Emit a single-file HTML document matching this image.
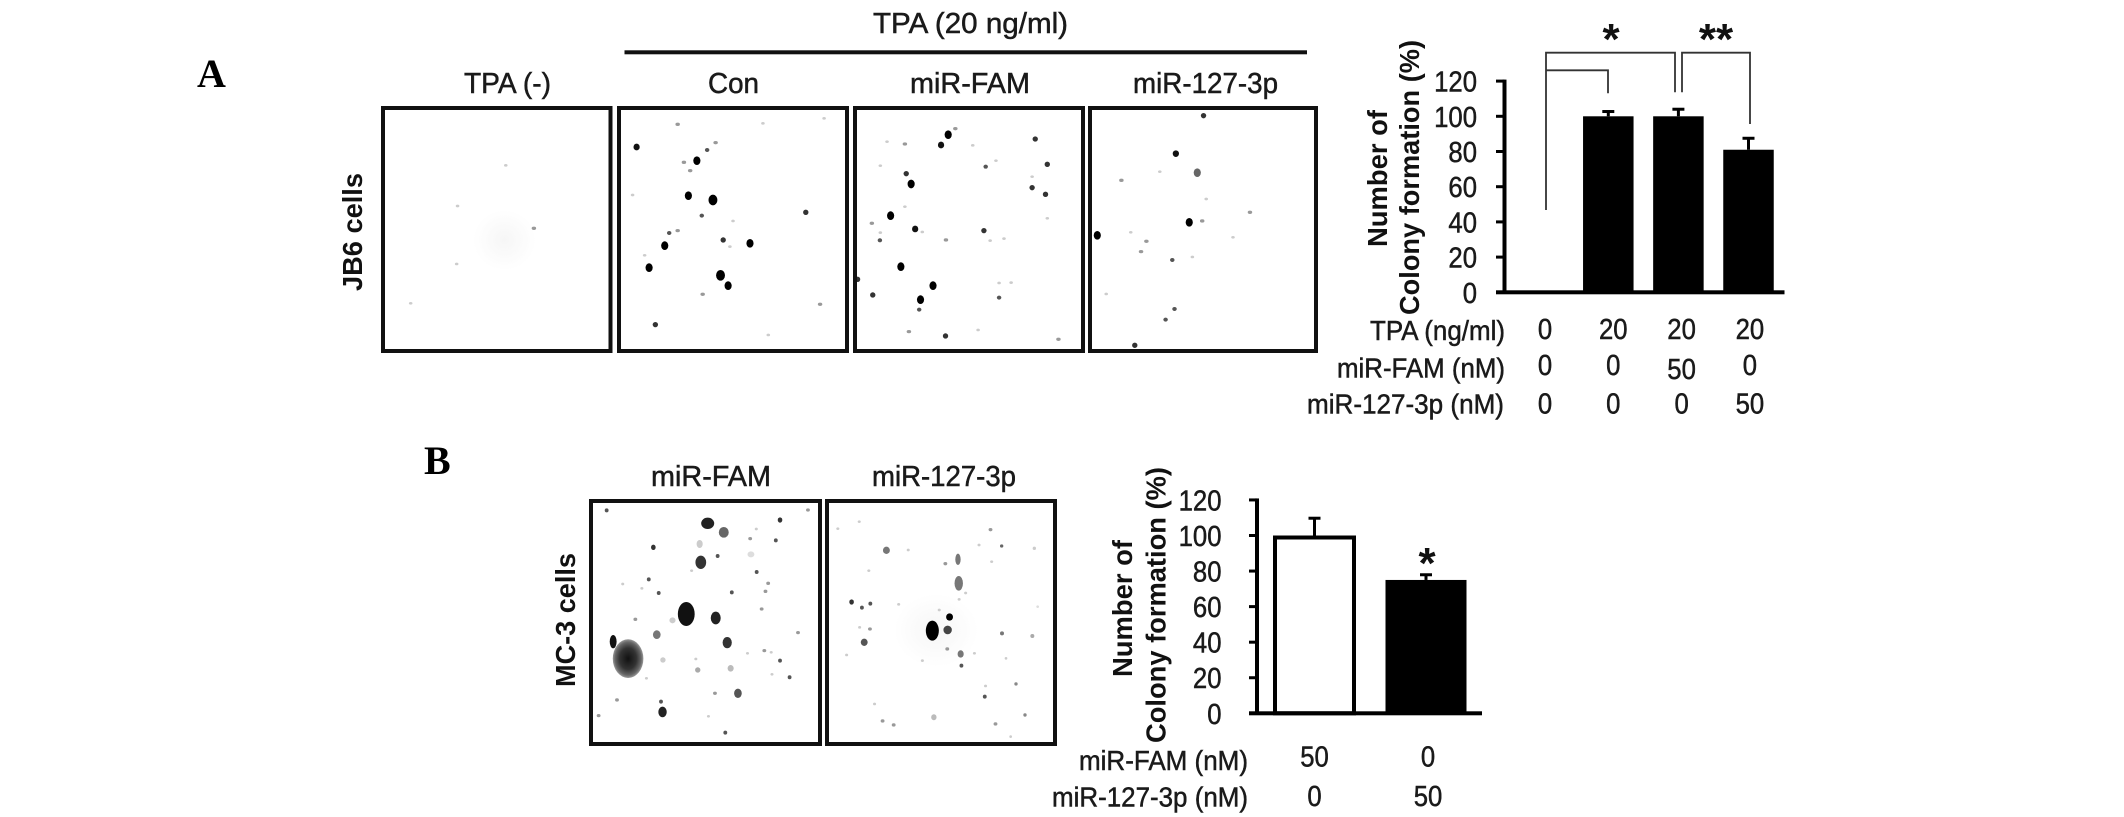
<!DOCTYPE html>
<html lang="en">
<head>
<meta charset="utf-8">
<title>Colony formation figure</title>
<style>
html,body{margin:0;padding:0;background:#fff;}
#fig{display:block;width:2124px;height:817px;font-family:"Liberation Sans",sans-serif;}
text{fill:#1a1a1a;}
.lbl{font-size:29px;stroke:#1a1a1a;stroke-width:.5px;}
.bold{font-size:28px;font-weight:bold;fill:#111;}
.letter{font-family:"Liberation Serif",serif;font-weight:bold;font-size:40px;fill:#000;}
.plate{fill:none;stroke:#111;stroke-width:4;}
.brk{fill:none;stroke:#333;stroke-width:1.8;}
.dots{filter:blur(.6px);}
.f{rx:4px;ry:4px;fill:#ccc;}
.g{rx:5px;ry:5px;fill:#999;}
.s{rx:5px;ry:6px;fill:#555;}
.m{rx:6px;ry:8px;fill:#333;}
.h{rx:7px;ry:10px;fill:#111;}
.L{rx:8px;ry:13px;fill:#000;}
.X{rx:10px;ry:16px;fill:#000;}
</style>
</head>
<body>
<svg id="fig" xmlns="http://www.w3.org/2000/svg" width="2124" height="817" viewBox="0 0 2124 817">
<defs>
<radialGradient id="colonyGrad"><stop offset="0" stop-color="#111"/><stop offset=".55" stop-color="#333"/><stop offset=".85" stop-color="#666"/><stop offset="1" stop-color="#999"/></radialGradient>
<radialGradient id="haloGrad"><stop offset="0" stop-color="#f6f6f6"/><stop offset="1" stop-color="#fff"/></radialGradient>
</defs>
<rect width="2124" height="817" fill="#fff"/>

<text class="letter" x="197" y="87">A</text>
<text class="letter" x="424" y="474">B</text>

<text class="lbl" x="873" y="33" textLength="195" lengthAdjust="spacingAndGlyphs">TPA (20 ng/ml)</text>
<rect x="624.5" y="50.3" width="682.5" height="4" fill="#111"/>
<text class="lbl" x="464" y="93" textLength="87" lengthAdjust="spacingAndGlyphs">TPA (-)</text>
<text class="lbl" x="708" y="93" textLength="51" lengthAdjust="spacingAndGlyphs">Con</text>
<text class="lbl" x="910" y="93" textLength="120" lengthAdjust="spacingAndGlyphs">miR-FAM</text>
<text class="lbl" x="1133" y="93" textLength="145" lengthAdjust="spacingAndGlyphs">miR-127-3p</text>
<text class="bold" transform="translate(362,291) rotate(-90)" textLength="118" lengthAdjust="spacingAndGlyphs">JB6 cells</text>

<text class="lbl" x="651" y="486" textLength="120" lengthAdjust="spacingAndGlyphs">miR-FAM</text>
<text class="lbl" x="872" y="486" textLength="144" lengthAdjust="spacingAndGlyphs">miR-127-3p</text>
<text class="bold" transform="translate(575,687) rotate(-90)" textLength="134" lengthAdjust="spacingAndGlyphs">MC-3 cells</text>

<!-- Panel A plates -->
<g class="dots" transform="scale(.4464,.3333)">
<ellipse cx="1130" cy="720" rx="70" ry="90" fill="url(#haloGrad)"/>
<ellipse class="g" cx="1196" cy="685"/><ellipse class="f" cx="1025" cy="618"/><ellipse class="f" cx="1023" cy="792"/><ellipse class="f" cx="1133" cy="496"/><ellipse class="f" cx="920" cy="910"/>
</g>
<g class="dots" transform="translate(600,0) scale(.4464,.3333)">
<ellipse class="h" cx="82" cy="441"/><ellipse class="g" cx="174" cy="373"/><ellipse class="f" cx="365" cy="370"/><ellipse class="f" cx="502" cy="355"/><ellipse class="g" cx="259" cy="428"/><ellipse class="s" cx="240" cy="450"/><ellipse class="L" cx="217" cy="482"/><ellipse class="g" cx="188" cy="487"/><ellipse class="g" cx="202" cy="512"/><ellipse class="f" cx="73" cy="585"/><ellipse class="L" cx="198" cy="587"/><ellipse class="X" cx="253" cy="600"/><ellipse class="s" cx="228" cy="647"/><ellipse class="m" cx="461" cy="637"/><ellipse class="f" cx="298" cy="663"/><ellipse class="s" cx="155" cy="699"/><ellipse class="g" cx="174" cy="692"/><ellipse class="L" cx="145" cy="737"/><ellipse class="m" cx="276" cy="720"/><ellipse class="f" cx="291" cy="740"/><ellipse class="L" cx="336" cy="730"/><ellipse class="f" cx="100" cy="766"/><ellipse class="L" cx="110" cy="803"/><ellipse class="X" cx="270" cy="826"/><ellipse class="L" cx="287" cy="857"/><ellipse class="g" cx="230" cy="883"/><ellipse class="g" cx="493" cy="913"/><ellipse class="m" cx="124" cy="974"/><ellipse class="f" cx="377" cy="1005"/>
</g>
<g class="dots" transform="translate(600,0) scale(.4464,.3333)">
<ellipse class="g" cx="796" cy="386"/><ellipse class="L" cx="780" cy="404"/><ellipse class="h" cx="764" cy="435"/><ellipse class="m" cx="975" cy="417"/><ellipse class="g" cx="683" cy="432"/><ellipse class="f" cx="643" cy="425"/><ellipse class="f" cx="835" cy="436"/><ellipse class="f" cx="887" cy="482"/><ellipse class="s" cx="864" cy="500"/><ellipse class="m" cx="1002" cy="493"/><ellipse class="m" cx="686" cy="521"/><ellipse class="L" cx="697" cy="552"/><ellipse class="m" cx="968" cy="563"/><ellipse class="m" cx="998" cy="583"/><ellipse class="f" cx="968" cy="530"/><ellipse class="f" cx="683" cy="620"/><ellipse class="L" cx="651" cy="647"/><ellipse class="g" cx="609" cy="670"/><ellipse class="f" cx="628" cy="698"/><ellipse class="h" cx="706" cy="687"/><ellipse class="f" cx="722" cy="696"/><ellipse class="m" cx="860" cy="692"/><ellipse class="s" cx="627" cy="721"/><ellipse class="g" cx="775" cy="720"/><ellipse class="f" cx="874" cy="722"/><ellipse class="f" cx="905" cy="716"/><ellipse class="f" cx="1002" cy="655"/><ellipse class="L" cx="674" cy="800"/><ellipse class="m" cx="577" cy="838"/><ellipse class="L" cx="746" cy="857"/><ellipse class="f" cx="894" cy="849"/><ellipse class="f" cx="921" cy="848"/><ellipse class="m" cx="611" cy="885"/><ellipse class="s" cx="894" cy="893"/><ellipse class="L" cx="718" cy="899"/><ellipse class="s" cx="715" cy="929"/><ellipse class="g" cx="692" cy="995"/><ellipse class="m" cx="774" cy="1008"/><ellipse class="f" cx="847" cy="990"/><ellipse class="g" cx="1027" cy="1018"/><ellipse class="f" cx="628" cy="497"/>
</g>
<g class="dots" transform="translate(600,0) scale(.4464,.3333)">
<ellipse class="m" cx="1352" cy="347"/><ellipse class="h" cx="1290" cy="461"/><ellipse class="g" cx="1168" cy="541"/><ellipse class="f" cx="1254" cy="515"/><ellipse cx="1338" cy="518" rx="8" ry="13" fill="#666"/><ellipse class="f" cx="1358" cy="597"/><ellipse class="g" cx="1456" cy="637"/><ellipse class="L" cx="1320" cy="667"/><ellipse class="g" cx="1349" cy="663"/><ellipse class="L" cx="1114" cy="706"/><ellipse class="f" cx="1189" cy="697"/><ellipse class="g" cx="1224" cy="724"/><ellipse class="f" cx="1418" cy="712"/><ellipse class="g" cx="1212" cy="755"/><ellipse class="s" cx="1282" cy="780"/><ellipse class="f" cx="1327" cy="771"/><ellipse class="f" cx="1134" cy="882"/><ellipse class="s" cx="1287" cy="927"/><ellipse class="s" cx="1267" cy="959"/><ellipse class="m" cx="1198" cy="1036"/>
</g>

<!-- Panel B plates -->
<g class="dots" transform="translate(400,420) scale(.3827,.3333)">
<ellipse cx="804" cy="310" rx="17" ry="17" fill="#222"/><ellipse cx="846" cy="337" rx="13" ry="16" fill="#666"/><ellipse class="s" cx="540" cy="271"/><ellipse class="m" cx="993" cy="300"/><ellipse class="g" cx="1066" cy="270"/><ellipse class="m" cx="662" cy="382"/><ellipse cx="783" cy="372" rx="8" ry="12" fill="#ccc"/><ellipse cx="786" cy="427" rx="14" ry="20" fill="#333"/><ellipse class="s" cx="830" cy="408"/><ellipse class="s" cx="982" cy="361"/><ellipse class="g" cx="915" cy="356"/><ellipse class="f" cx="931" cy="327"/><ellipse cx="917" cy="403" rx="9" ry="9" fill="#ddd"/><ellipse class="s" cx="932" cy="456"/><ellipse class="s" cx="650" cy="478"/><ellipse class="g" cx="962" cy="490"/><ellipse class="s" cx="676" cy="519"/><ellipse class="s" cx="867" cy="517"/><ellipse class="g" cx="955" cy="514"/><ellipse class="f" cx="762" cy="452"/><ellipse class="f" cx="582" cy="492"/><ellipse class="f" cx="632" cy="505"/><ellipse class="g" cx="945" cy="567"/><ellipse class="g" cx="615" cy="598"/><ellipse cx="712" cy="601" rx="8" ry="9" fill="#ccc"/><ellipse cx="748" cy="582" rx="22" ry="36" fill="#111"/><ellipse cx="825" cy="594" rx="13" ry="19" fill="#222"/><ellipse cx="671" cy="644" rx="10" ry="13" fill="#777"/><ellipse cx="855" cy="668" rx="12" ry="17" fill="#333"/><ellipse class="g" cx="1040" cy="638"/><ellipse cx="557" cy="665" rx="9" ry="20" fill="#111"/><ellipse cx="596" cy="716" rx="40" ry="58" fill="url(#colonyGrad)"/><ellipse class="f" cx="908" cy="700"/><ellipse class="g" cx="952" cy="692"/><ellipse class="f" cx="970" cy="697"/><ellipse class="s" cx="993" cy="722"/><ellipse class="f" cx="773" cy="717"/><ellipse cx="687" cy="720" rx="7" ry="8" fill="#ccc"/><ellipse cx="778" cy="750" rx="7" ry="8" fill="#aaa"/><ellipse cx="864" cy="745" rx="8" ry="10" fill="#bbb"/><ellipse class="f" cx="972" cy="763"/><ellipse class="s" cx="1018" cy="772"/><ellipse class="f" cx="644" cy="775"/><ellipse class="g" cx="823" cy="820"/><ellipse cx="883" cy="820" rx="10" ry="14" fill="#555"/><ellipse class="g" cx="567" cy="840"/><ellipse class="s" cx="682" cy="845"/><ellipse cx="686" cy="876" rx="11" ry="16" fill="#222"/><ellipse class="g" cx="519" cy="887"/><ellipse class="f" cx="806" cy="889"/><ellipse class="s" cx="850" cy="938"/>
</g>
<g class="dots" transform="translate(400,420) scale(.3827,.3333)">
<ellipse cx="1400" cy="630" rx="110" ry="110" fill="url(#haloGrad)"/>
<ellipse class="f" cx="1144" cy="326"/><ellipse class="f" cx="1200" cy="305"/><ellipse cx="1271" cy="391" rx="9" ry="11" fill="#777"/><ellipse class="f" cx="1328" cy="390"/><ellipse class="g" cx="1543" cy="329"/><ellipse class="f" cx="1513" cy="375"/><ellipse cx="1458" cy="418" rx="7" ry="17" fill="#777"/><ellipse class="g" cx="1425" cy="431"/><ellipse class="f" cx="1546" cy="425"/><ellipse class="f" cx="1225" cy="452"/><ellipse cx="1460" cy="490" rx="11" ry="22" fill="#777"/><ellipse class="f" cx="1478" cy="519"/><ellipse class="f" cx="1461" cy="538"/><ellipse class="m" cx="1180" cy="546"/><ellipse class="s" cx="1207" cy="563"/><ellipse class="s" cx="1229" cy="551"/><ellipse class="f" cx="1303" cy="553"/><ellipse class="f" cx="1409" cy="570"/><ellipse cx="1436" cy="591" rx="9" ry="11" fill="#000"/><ellipse cx="1391" cy="632" rx="17" ry="30" fill="#000"/><ellipse cx="1431" cy="630" rx="11" ry="13" fill="#444"/><ellipse class="f" cx="1201" cy="622"/><ellipse class="g" cx="1228" cy="627"/><ellipse cx="1213" cy="667" rx="9" ry="11" fill="#555"/><ellipse class="g" cx="1430" cy="687"/><ellipse cx="1465" cy="702" rx="8" ry="11" fill="#777"/><ellipse class="f" cx="1501" cy="700"/><ellipse class="s" cx="1467" cy="737"/><ellipse class="f" cx="1365" cy="722"/><ellipse class="f" cx="1167" cy="705"/><ellipse class="f" cx="1530" cy="798"/><ellipse class="s" cx="1528" cy="830"/><ellipse class="f" cx="1240" cy="852"/><ellipse class="g" cx="1261" cy="903"/><ellipse class="g" cx="1290" cy="915"/><ellipse cx="1395" cy="892" rx="7" ry="9" fill="#bbb"/><ellipse class="g" cx="1556" cy="912"/>
</g>
<g class="dots" transform="translate(1000,460) scale(.3333)">
<circle cx="5" cy="258" r="5" fill="#666"/><circle cx="103" cy="265" r="5" fill="#ccc"/><circle cx="113" cy="440" r="4" fill="#ddd"/><circle cx="6" cy="520" r="6" fill="#777"/><circle cx="97" cy="528" r="6" fill="#aaa"/><circle cx="18" cy="595" r="4" fill="#ccc"/><circle cx="48" cy="672" r="5" fill="#888"/><circle cx="75" cy="765" r="5" fill="#888"/><circle cx="32" cy="830" r="4" fill="#ccc"/>
</g>

<!-- Plate frames -->
<rect class="plate" x="383" y="108" width="227.5" height="243"/>
<rect class="plate" x="619" y="108" width="228" height="243"/>
<rect class="plate" x="855" y="108" width="228" height="243"/>
<rect class="plate" x="1090" y="108" width="226" height="243"/>
<rect class="plate" x="591" y="501" width="229" height="243"/>
<rect class="plate" x="827" y="501" width="228" height="243"/>

<!-- Axis titles -->
<text class="bold" transform="translate(1387,247) rotate(-90)" textLength="137" lengthAdjust="spacingAndGlyphs">Number of</text>
<text class="bold" transform="translate(1419,315) rotate(-90)" textLength="275" lengthAdjust="spacingAndGlyphs">Colony formation  (%)</text>
<text class="bold" transform="translate(1132,677) rotate(-90)" textLength="137" lengthAdjust="spacingAndGlyphs">Number of</text>
<text class="bold" transform="translate(1165.7,743) rotate(-90)" textLength="276" lengthAdjust="spacingAndGlyphs">Colony formation  (%)</text>

<!-- Significance brackets -->
<path class="brk" d="M1546 210V52.7H1675V92.3"/>
<path class="brk" d="M1546 70.3H1608V93.3"/>
<path class="brk" d="M1682 92.3V52.7H1750V124"/>
<text x="1611" y="54" text-anchor="middle" font-size="44" font-weight="bold" style="fill:#111">*</text>
<text x="1716" y="54" text-anchor="middle" font-size="44" font-weight="bold" style="fill:#111">**</text>
<text x="1427" y="578" text-anchor="middle" font-size="44" font-weight="bold" style="fill:#111">*</text>

<g id="charts"></g>
</svg>

<script>
const tickValues = [0, 20, 40, 60, 80, 100, 120];
const valuesA = [0, 100, 100, 81];
const errorsA = [0, 3, 4.3, 6.8];
const valuesB = [100, 75];
const errorsB = [10, 3.2];
const rowLabelsA = ['TPA (ng/ml)', 'miR-FAM (nM)', 'miR-127-3p (nM)'];
const tpaDoseA = ['0', '20', '20', '20'];
const famDoseA = ['0', '0', '50', '0'];
const mirDoseA = ['0', '0', '0', '50'];
const rowLabelsB = ['miR-FAM (nM)', 'miR-127-3p (nM)'];
const famDoseB = ['50', '0'];
const mirDoseB = ['0', '50'];

const NS = 'http://www.w3.org/2000/svg';
const root = document.getElementById('charts');
function mk(tag, attrs) {
  const el = document.createElementNS(NS, tag);
  for (const k in attrs) el.setAttribute(k, attrs[k]);
  root.appendChild(el);
  return el;
}
function yA(v) { return 292.3 - v * 1.76; }
function xA(i) { return 1538.2 + i * 70.1; }
function colA(i) { return 1545 + i * 68.3; }
function yB(v) { return 713.3 - v * 1.778; }
function xB(i) { return 1314.5 + i * 111.5; }

function drawAxes(prefix, y, axisX, tickLeft, right, labelEnd) {
  const yLine = mk('rect', {x: axisX - 2, y: y(120) - 1.5, width: 4, height: y(0) - y(120) + 3, fill: '#000'});
  
  
  const xLine = mk('rect', {x: tickLeft, y: y(0) - 2, width: right - tickLeft, height: 4, fill: '#000'});
  
  
  tickValues.forEach(function (v) {
    const t = mk('rect', {x: tickLeft, y: y(v) - 1.5, width: axisX - tickLeft, height: 3, fill: '#000'});
    
    
    const label = mk('text', {x: labelEnd, y: y(v) + 10.5, 'text-anchor': 'end', 'font-size': 29, stroke: '#1a1a1a', 'stroke-width': .5, textLength: String(v).length * 14.3, lengthAdjust: 'spacingAndGlyphs'});
    label.textContent = String(v);
    
    
  });
}

function drawBar(prefix, i, value, err, x, y, width, hollow) {
  const cx = x(i);
  if (err > 0) {
    const stem = mk('rect', {x: cx - 1.5, y: y(value + err), width: 3, height: y(value) - y(value + err), fill: '#000'});
    
    
    const cap = mk('rect', {x: cx - 6, y: y(value + err) - 1, width: 12, height: 3, fill: '#000'});
    
    
  }
  const inset = hollow ? 2 : 0;
  const bar = mk('rect', {
    x: cx - width / 2 + inset,
    y: y(value) + inset,
    width: width - inset * 2,
    height: y(0) - y(value) - inset,
    fill: hollow ? '#fff' : '#000',
    stroke: hollow ? '#000' : 'none',
    'stroke-width': hollow ? 4 : 0
  });
  
  
}

function drawCell(name, x, baseline, str) {
  const cell = mk('text', {x: x, y: baseline, 'text-anchor': 'middle', 'font-size': 29, stroke: '#1a1a1a', 'stroke-width': .5, textLength: str.length * 14.3, lengthAdjust: 'spacingAndGlyphs'});
  cell.textContent = str;
  
  
}

function drawRowLabel(name, end, baseline, str, len) {
  const lab = mk('text', {x: end - len, y: baseline, 'font-size': 28, stroke: '#1a1a1a', 'stroke-width': .5, textLength: len, lengthAdjust: 'spacingAndGlyphs'});
  lab.textContent = str;
  
  
}

valuesA.forEach(function (v, i) { drawBar('chart-a', i, v, errorsA[i], xA, yA, 50.5, false); });
drawAxes('chart-a', yA, 1504.5, 1496, 1784.5, 1477);
drawRowLabel('row-label-a-tpa', 1505, 340, rowLabelsA[0], 135);
drawRowLabel('row-label-a-fam', 1505, 377.7, rowLabelsA[1], 168);
drawRowLabel('row-label-a-mir', 1504, 413.3, rowLabelsA[2], 197);
tpaDoseA.forEach(function (s, i) { drawCell('dose-a-tpa-' + i, colA(i), 339, s); });
famDoseA.forEach(function (s, i) { drawCell('dose-a-fam-' + i, colA(i), s === '50' ? 379 : 375, s); });
mirDoseA.forEach(function (s, i) { drawCell('dose-a-mir-' + i, colA(i), 413.3, s); });

valuesB.forEach(function (v, i) { drawBar('chart-b', i, v, errorsB[i], xB, yB, i === 0 ? 83 : 81, i === 0); });
drawAxes('chart-b', yB, 1257, 1249, 1482, 1221.5);
drawRowLabel('row-label-b-fam', 1248, 770, rowLabelsB[0], 169);
drawRowLabel('row-label-b-mir', 1248, 806.7, rowLabelsB[1], 196);
famDoseB.forEach(function (s, i) { drawCell('dose-b-fam-' + i, xB(i) + i * 2, 766.7, s); });
mirDoseB.forEach(function (s, i) { drawCell('dose-b-mir-' + i, xB(i) + i * 2, 806, s); });
</script>
</body>
</html>
